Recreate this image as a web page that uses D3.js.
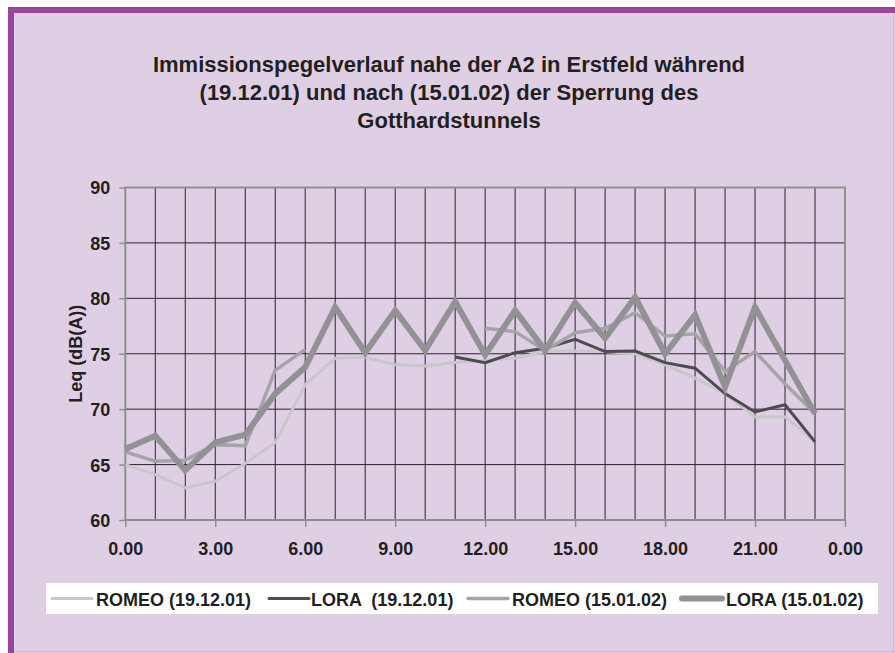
<!DOCTYPE html>
<html><head><meta charset="utf-8">
<script src="https://cdn.jsdelivr.net/npm/d3@7/dist/d3.min.js"></script>
<style>html,body{margin:0;padding:0;background:#fff;}svg{display:block;}</style>
</head><body>
<script>
const hours = d3.range(0, 24);
const romeo19 = [65.0,64.1,62.9,63.5,65.1,67.0,72.2,74.6,74.7,74.0,73.9,74.2,74.4,74.6,75.2,75.25,75.2,75.0,74.0,72.8,71.4,69.3,69.3,67.1];
const lora19 = [null,null,null,null,null,null,null,null,null,null,null,74.7,74.2,75.1,75.5,76.3,75.2,75.25,74.2,73.7,71.4,69.75,70.4,67.05];
const romeo15 = [66.15,65.3,65.4,66.8,66.7,73.5,75.4,null,null,null,null,null,77.3,77.0,75.3,76.9,77.3,78.7,76.6,76.8,73.4,75.2,72.3,69.6];
const lora15 = [66.4,67.6,64.5,67.0,67.7,71.4,73.8,79.2,75.1,78.9,75.3,79.7,74.9,78.9,75.3,79.6,76.4,80.1,75.0,78.5,72.0,79.2,74.4,69.6];
const yTicks = [60,65,70,75,80,85,90];
const xTickHours = [0,3,6,9,12,15,18,21,24];
const xTickLabels = ["0.00","3.00","6.00","9.00","12.00","15.00","18.00","21.00","0.00"];
const titleLines = ["Immissionspegelverlauf nahe der A2 in Erstfeld während","(19.12.01) und nach (15.01.02) der Sperrung des","Gotthardstunnels"];
const yLabel = "Leq (dB(A))";
const seriesNames = ["ROMEO (19.12.01)","LORA  (19.12.01)","ROMEO (15.01.02)","LORA (15.01.02)"];

const W = 895, H = 653;
const svg = d3.select("body").append("svg").attr("width", W).attr("height", H);
const font = "'Liberation Sans', Arial, sans-serif";

// background and frame
svg.append("rect").attr("x", 8).attr("y", 7).attr("width", W - 8).attr("height", H - 7).attr("fill", "#dfcfe5");
svg.append("rect").attr("x", 8).attr("y", 7).attr("width", W - 8).attr("height", 6).attr("fill", "#9a449c");
svg.append("rect").attr("x", 8).attr("y", 7).attr("width", 6).attr("height", H - 7).attr("fill", "#9a449c");
svg.append("line").attr("x1", 14).attr("x2", W).attr("y1", H - 1.5).attr("y2", H - 1.5).attr("stroke", "#d2b8da").attr("stroke-width", 1);
svg.append("line").attr("x1", W - 1.5).attr("x2", W - 1.5).attr("y1", 13).attr("y2", H).attr("stroke", "#d2b8da").attr("stroke-width", 1);

// title
const title = svg.append("text").attr("text-anchor", "middle").attr("font-family", font)
  .attr("font-weight", "bold").attr("font-size", 22).attr("fill", "#231f20");
titleLines.forEach((t, i) => title.append("tspan").attr("x", 449).attr("y", 72 + i * 28).text(t));

const x = d3.scaleLinear().domain([0, 24]).range([125.3, 845]);
const y = d3.scaleLinear().domain([60, 90]).range([520, 187.5]);

const g = svg.append("g");
// horizontal grid
g.selectAll(".hg").data(yTicks.slice(1, -1)).join("line")
  .attr("x1", x(0)).attr("x2", x(24)).attr("y1", d => y(d)).attr("y2", d => y(d))
  .attr("stroke", "#2d2230").attr("stroke-width", 1);
// vertical grid
g.selectAll(".vg").data(d3.range(1, 24)).join("line")
  .attr("x1", d => x(d)).attr("x2", d => x(d)).attr("y1", y(90)).attr("y2", y(60))
  .attr("stroke", "#2d2230").attr("stroke-width", 1);
// plot frame (gray)
g.append("rect").attr("x", x(0)).attr("y", y(90)).attr("width", x(24) - x(0)).attr("height", y(60) - y(90))
  .attr("fill", "none").attr("stroke", "#8f8f8f").attr("stroke-width", 2);

// axes
const yAxis = d3.axisLeft(y).tickValues(yTicks).tickSize(6).tickFormat(d3.format("d"));
const ya = svg.append("g").attr("transform", `translate(${x(0)},0)`).call(yAxis);
ya.select(".domain").remove();
ya.selectAll(".tick line").attr("stroke", "#8f8f8f").attr("stroke-width", 1.5);
ya.selectAll(".tick text").attr("font-family", font).attr("font-weight", "bold").attr("font-size", 18)
  .attr("fill", "#231f20").attr("x", -15).attr("dy", "0.36em");

const xAxis = d3.axisBottom(x).tickValues(xTickHours).tickSize(7).tickFormat((d, i) => xTickLabels[i]);
const xa = svg.append("g").attr("transform", `translate(0,${y(60)})`).call(xAxis);
xa.select(".domain").remove();
xa.selectAll(".tick line").attr("stroke", "#8f8f8f").attr("stroke-width", 1.5);
xa.selectAll(".tick text").attr("font-family", font).attr("font-weight", "bold").attr("font-size", 18)
  .attr("fill", "#231f20").attr("y", 35).attr("dy", "0");

svg.append("text").attr("transform", `translate(82,${(y(60) + y(90)) / 2}) rotate(-90)`)
  .attr("text-anchor", "middle").attr("font-family", font).attr("font-weight", "bold")
  .attr("font-size", 18).attr("fill", "#231f20").text(yLabel);

// series
const series = [
  {name: seriesNames[0], values: romeo19, color: "#c8c8ca", width: 3},
  {name: seriesNames[1], values: lora19, color: "#4d4c50", width: 3},
  {name: seriesNames[2], values: romeo15, color: "#a5a5a8", width: 3.5},
  {name: seriesNames[3], values: lora15, color: "#929295", width: 6}
];
const line = d3.line().defined(d => d[1] != null).x(d => x(d[0])).y(d => y(d[1]));
series.forEach(s => {
  svg.append("path").datum(hours.map((h, i) => [h, s.values[i]]))
    .attr("d", line).attr("fill", "none").attr("stroke", s.color)
    .attr("stroke-width", s.width).attr("stroke-linejoin", "miter").attr("stroke-miterlimit", 4);
});

// legend
svg.append("rect").attr("x", 46).attr("y", 583).attr("width", 832).attr("height", 31).attr("fill", "#ffffff");
const legendPos = [[52, 96], [269, 311], [468, 512], [682, 726]];
series.forEach((s, i) => {
  const [lx, tx] = legendPos[i];
  svg.append("line").attr("x1", lx).attr("x2", lx + 40).attr("y1", 598.5).attr("y2", 598.5)
    .attr("stroke", s.color).attr("stroke-width", s.width).attr("stroke-linecap", "round");
  svg.append("text").attr("x", tx).attr("y", 606).attr("font-family", font).attr("font-weight", "bold")
    .attr("font-size", 18).attr("fill", "#231f20").attr("xml:space", "preserve").style("white-space", "pre").text(s.name);
});
</script>
</body></html>
